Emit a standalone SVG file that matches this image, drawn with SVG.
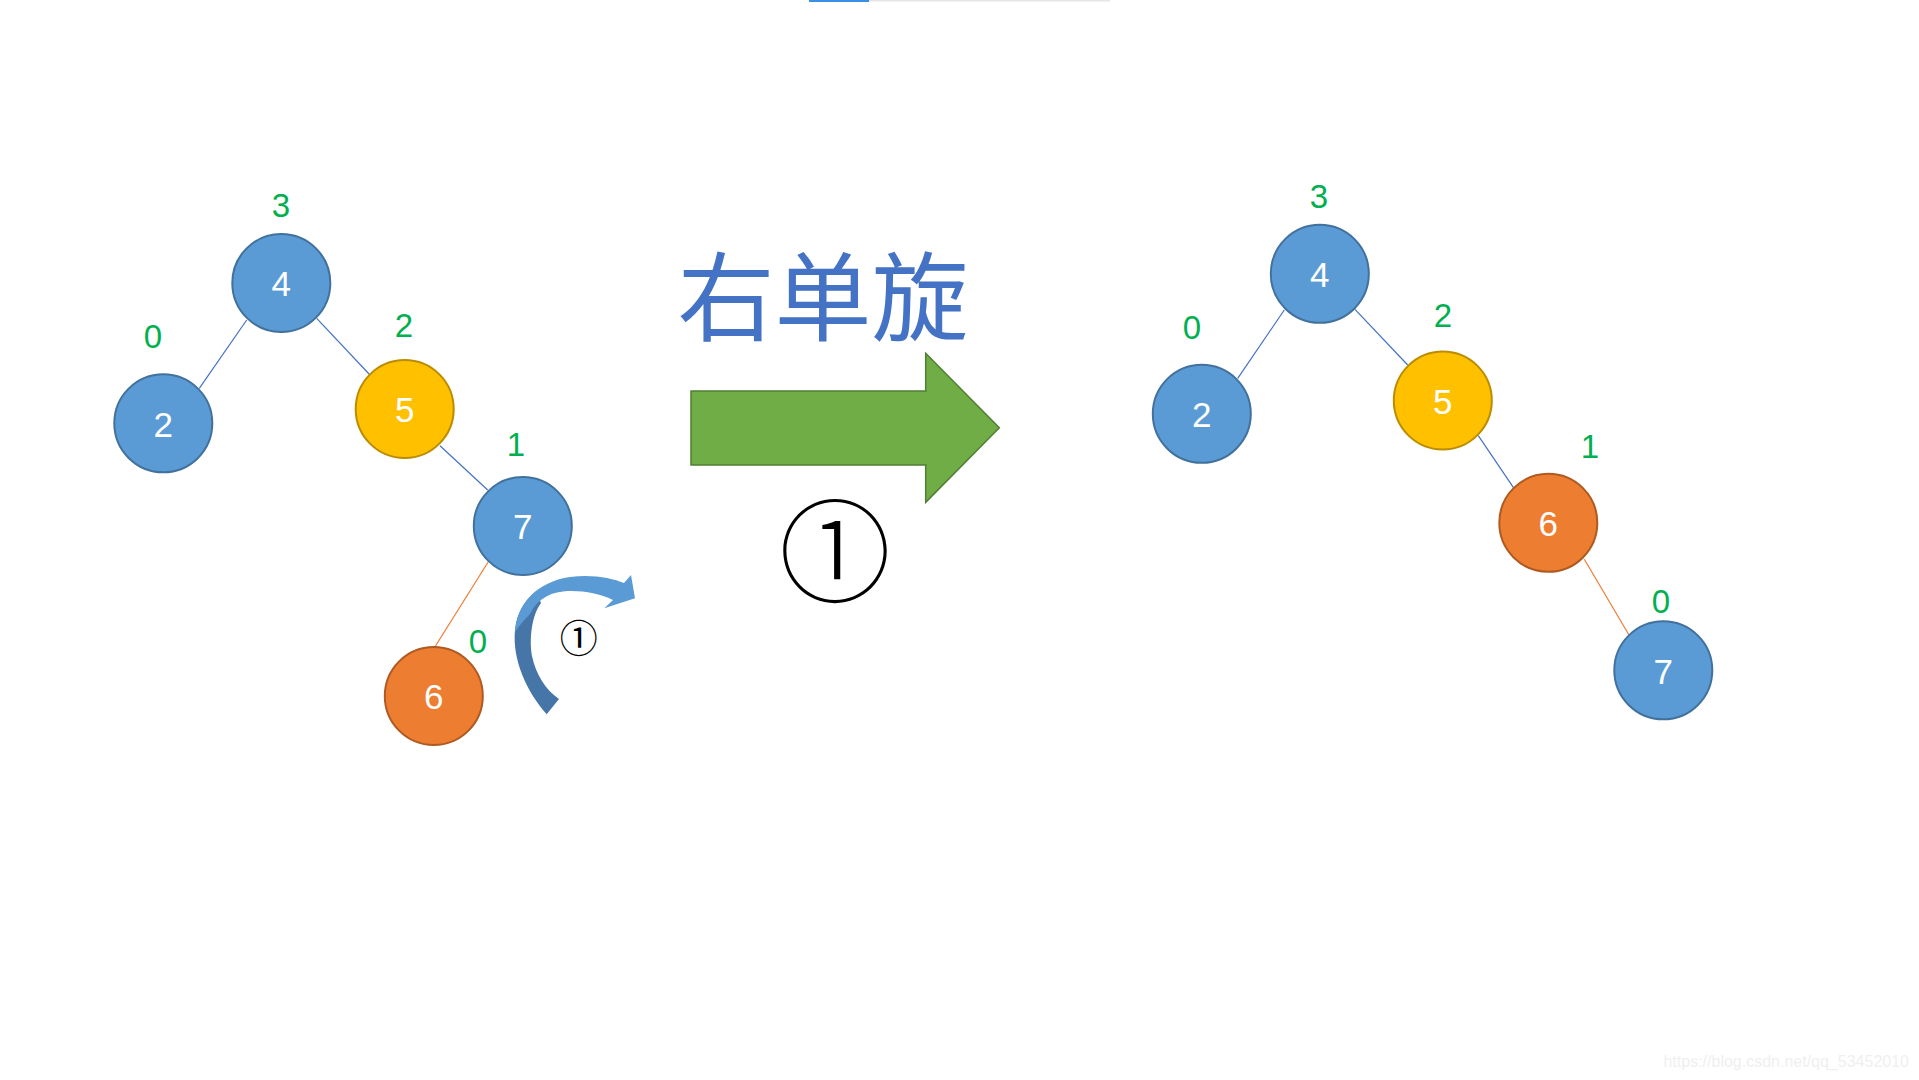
<svg xmlns="http://www.w3.org/2000/svg" width="1919" height="1080" viewBox="0 0 1919 1080">
<style>
.blue{fill:#5B9BD5;stroke:#41719C;stroke-width:2}
.yellow{fill:#FFC000;stroke:#BC8C00;stroke-width:2}
.orange{fill:#ED7D31;stroke:#AE5A21;stroke-width:2}
.nt{font-family:"Liberation Sans","Noto Sans",sans-serif;font-size:35px;fill:#FFFFFF;text-anchor:middle}
.lbl{font-family:"Liberation Sans","Noto Sans",sans-serif;font-size:33px;fill:#00B050;text-anchor:middle}
.eb{stroke:#4472C4;stroke-width:1.2;fill:none}
.eo{stroke:#ED7D31;stroke-width:1.2;fill:none}
.circ{font-family:"Noto Sans CJK SC","DejaVu Sans",sans-serif;fill:#000000;text-anchor:middle}
</style>
<rect x="0" y="0" width="1919" height="1080" fill="#FFFFFF"/>
<rect x="869" y="0" width="241" height="1.5" fill="#E6E6E6"/>
<rect x="809" y="0" width="60" height="2" fill="#3A8EE6"/>

<g id="connectors">
<line class="eb" x1="246.7" y1="320" x2="199.3" y2="388.3"/>
<line class="eb" x1="316.7" y1="318.3" x2="370" y2="375"/>
<line class="eb" x1="440" y1="445.7" x2="487.7" y2="490"/>
<line class="eo" x1="488.3" y1="561.7" x2="435" y2="646.7"/>
<line class="eb" x1="1284.3" y1="310" x2="1237.7" y2="378.3"/>
<line class="eb" x1="1355" y1="309.3" x2="1407.7" y2="365"/>
<line class="eb" x1="1478.3" y1="435.7" x2="1514" y2="488.3"/>
<line class="eo" x1="1584.3" y1="559.3" x2="1629" y2="635"/>
</g>

<g id="left-node-4"><circle class="blue" cx="281.3" cy="283" r="49"/><text class="nt" x="281.3" y="296">4</text></g>
<g id="left-node-2"><circle class="blue" cx="163.3" cy="423.3" r="49"/><text class="nt" x="163.3" y="436.5">2</text></g>
<g id="left-node-5"><circle class="yellow" cx="404.7" cy="409" r="49"/><text class="nt" x="404.7" y="422">5</text></g>
<g id="left-node-7"><circle class="blue" cx="522.8" cy="526" r="49"/><text class="nt" x="522.8" y="539">7</text></g>
<g id="left-node-6"><circle class="orange" cx="433.8" cy="696" r="49"/><text class="nt" x="433.8" y="709">6</text></g>

<g id="left-labels">
<text class="lbl" x="281" y="217">3</text>
<text class="lbl" x="153" y="348">0</text>
<text class="lbl" x="404" y="337">2</text>
<text class="lbl" x="516" y="456">1</text>
<text class="lbl" x="478" y="653">0</text>
</g>

<g id="rotate-arrow">
<path d="M546.7,714.3 C527,692 512,660 515,630 C517,612 525,600 536,592 L541,603 C532,615 529,638 532,656 C536,675 546,690 559,699 Z" fill="#4676A8"/>
<path d="M515,632 C517,603 537,582 570,577 C592,574 612,578 624,583 L631,575 L635,598.3 L604.3,608.3 L613,600 C598,593 580,590 563,591.5 C546,593 535,603 530,614 C524,620 519,626 515,632 Z" fill="#5B9BD5"/>
<text class="circ" x="578.8" y="651.5" font-size="38">①</text>
</g>

<g id="title">
<text x="823" y="332.5" font-family="'Noto Sans CJK SC','Noto Sans CJK JP',sans-serif" font-size="97" fill="#4472C4" text-anchor="middle">右单旋</text>
</g>
<g id="big-arrow">
<polygon points="691,391 925.7,391 925.7,353.3 999.3,427.7 925.7,502.3 925.7,465 691,465" fill="#70AD47" stroke="#507E32" stroke-width="1.5"/>
</g>
<g id="step-mark">
<text class="circ" x="835" y="593.5" font-size="112" font-weight="300">①</text>
</g>

<g id="right-node-4"><circle class="blue" cx="1319.8" cy="273.8" r="49"/><text class="nt" x="1319.8" y="287">4</text></g>
<g id="right-node-2"><circle class="blue" cx="1201.8" cy="413.8" r="49"/><text class="nt" x="1201.8" y="427">2</text></g>
<g id="right-node-5"><circle class="yellow" cx="1442.8" cy="400.5" r="49"/><text class="nt" x="1442.8" y="413.5">5</text></g>
<g id="right-node-6"><circle class="orange" cx="1548.3" cy="522.8" r="49"/><text class="nt" x="1548.3" y="536">6</text></g>
<g id="right-node-7"><circle class="blue" cx="1663.3" cy="670.3" r="49"/><text class="nt" x="1663.3" y="683.5">7</text></g>

<g id="right-labels">
<text class="lbl" x="1319" y="208">3</text>
<text class="lbl" x="1192" y="339">0</text>
<text class="lbl" x="1443" y="327">2</text>
<text class="lbl" x="1590" y="458">1</text>
<text class="lbl" x="1661" y="613">0</text>
</g>

<text x="1909" y="1066.5" font-family="'Liberation Sans',sans-serif" font-size="16" fill="#EFEFEF" text-anchor="end">https://blog.csdn.net/qq_53452010</text>
</svg>
